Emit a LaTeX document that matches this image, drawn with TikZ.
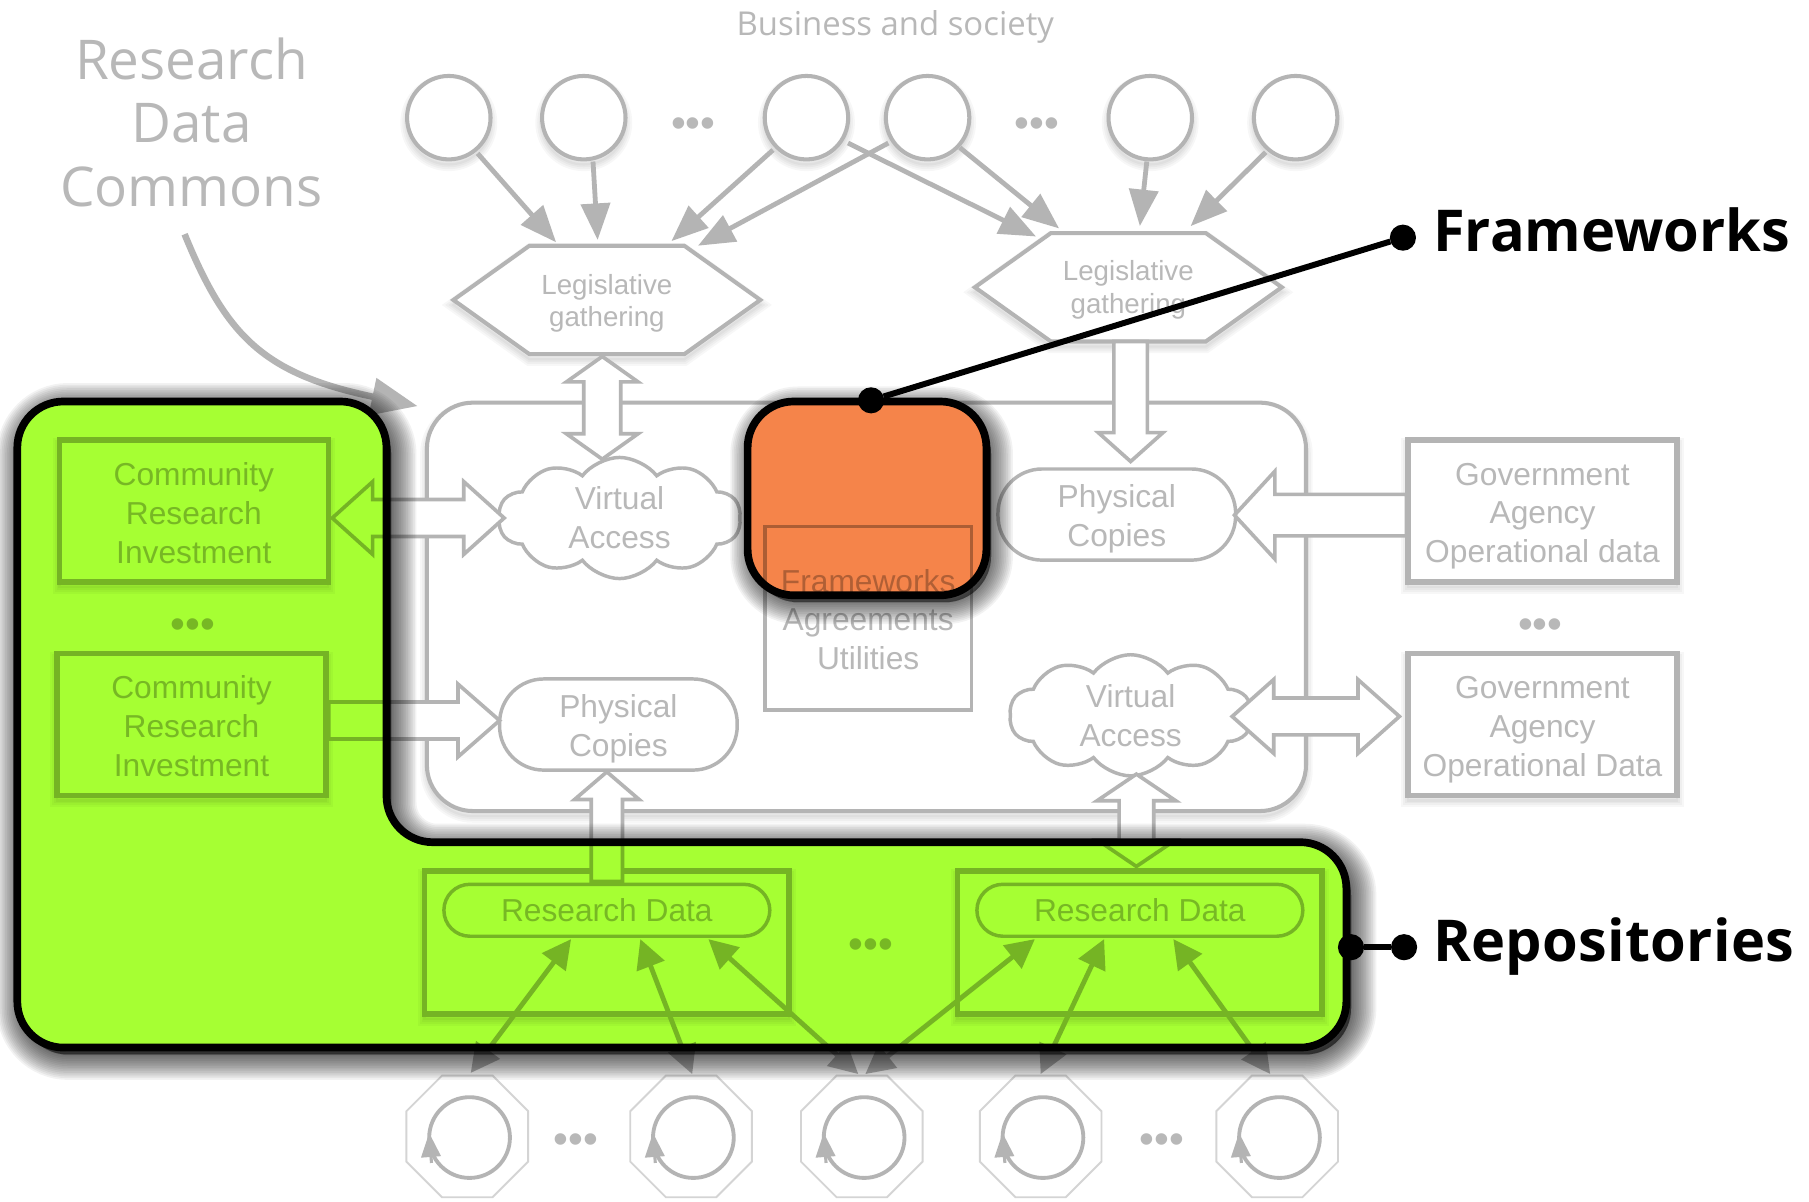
\documentclass[tikz,border=0pt]{standalone}
\usepackage{fontspec}
\setmainfont{Liberation Sans}
\newfontfamily\headfont{Open Sans}
\usetikzlibrary{calc,arrows.meta,shapes.symbols,shapes.geometric}
\definecolor{lineg}{HTML}{B4B4B4}
\definecolor{textg}{HTML}{B8B8B8}
\definecolor{octg}{HTML}{D4D4D4}
\definecolor{greenhl}{HTML}{A6FF33}
\definecolor{orangehl}{HTML}{F5844A}
\newcommand{\dn}[1]{\rule{0pt}{#1}}
\tikzset{
  x=0.6pt,y=-0.6pt,
  dx/.style={xshift=#1*0.6pt},
  dy/.style={yshift=-#1*0.6pt},
  softshadow/.style={
    preaction={draw=black,fill=none,draw opacity=.03,line width=1.2pt,transform canvas={yshift=-2.6pt}},
    preaction={draw=black,fill=none,draw opacity=.03,line width=3pt,transform canvas={yshift=-2.6pt}},
    preaction={draw=black,fill=none,draw opacity=.03,line width=5pt,transform canvas={yshift=-2.6pt}},
    preaction={draw=black,fill=none,draw opacity=.03,line width=7pt,transform canvas={yshift=-2.6pt}}},
  shapeline/.style={draw=lineg,line width=2.1pt,fill=white,text=textg,align=center,inner sep=0pt,outer sep=0pt},
  bodyfont/.style={font=\fontsize{16.5}{20.2}\selectfont},
  circlenode/.style={shapeline,softshadow,circle,minimum size=43.4pt},
  hexnode/.style={shapeline,softshadow,signal,signal to=west and east,signal pointer angle=71,minimum width=159.6pt,minimum height=56.4pt,font=\fontsize{14.4}{16.8}\selectfont},
  boxnode/.style={shapeline,softshadow,rectangle,line width=2.8pt,minimum width=139.8pt,minimum height=73.8pt,bodyfont},
  repobox/.style={shapeline,softshadow,rectangle,line width=2.8pt,minimum width=189.6pt,minimum height=74.4pt},
  pillnode/.style={shapeline,rectangle,rounded corners=13.5pt,line width=1.8pt,minimum width=169.5pt,minimum height=27pt,bodyfont},
  physnode/.style={shapeline,rectangle,rounded corners=23pt,line width=1.8pt,minimum width=123.6pt,minimum height=47.4pt,bodyfont},
  cloudnode/.style={shapeline,cloud,cloud puffs=10,cloud puff arc=105,cloud ignores aspect,line width=1.8pt,minimum width=126pt,minimum height=63pt,bodyfont},
  agrbox/.style={shapeline,rectangle,line width=1.8pt,minimum width=107.4pt,minimum height=95.4pt},
  agrtext/.style={text=textg,align=center,inner sep=0pt,font=\fontsize{16.5}{20}\selectfont},
  octnode/.style={draw=octg,line width=1pt,fill=white,regular polygon,regular polygon sides=8,minimum size=68.5pt,inner sep=0pt,outer sep=0pt},
  loopnode/.style={draw=lineg,line width=2pt,circle,minimum size=42pt,inner sep=0pt},
  looptip/.style={draw=lineg,line width=1.6pt,-{Triangle[length=12.5pt,width=10pt]}},
  dotsnode/.style={text=textg,inner sep=0pt,font=\fontsize{22}{22}\selectfont},
  conn/.style={draw=lineg,line width=2.5pt,-{Triangle[length=19pt,width=15pt]}},
  conn2/.style={draw=lineg,line width=2.5pt,{Triangle[length=15pt,width=15pt]}-{Triangle[length=15pt,width=15pt]}},
  blockline/.style={draw=lineg,line width=1.9pt,fill=white,line join=miter},
  headlabel/.style={text=textg,align=center,inner sep=0pt,font=\headfont\fontsize{28.5}{33}\selectfont},
  toplabel/.style={text=textg,inner sep=0pt,font=\headfont\fontsize{17.1}{20}\selectfont},
  calloutlabel/.style={text=black,anchor=west,inner sep=0pt,font=\headfont\bfseries\fontsize{30}{34}\selectfont},
  blackdot/.style={circle,fill=black,minimum size=13.6pt,inner sep=0pt,outer sep=0pt},
  callout/.style={draw=black,line width=3.1pt},
}
\newcommand{\blockarrow}[5]{%
  \coordinate (ba) at (#1); \coordinate (bb) at (#2);
  \coordinate (bc) at ($(bb)!#5*0.6pt!(ba)$);
  \draw[blockline] ($(ba)!#3*0.6pt!90:(bb)$) -- ($(bc)!#3*0.6pt!90:(bb)$) -- ($(bc)!#4*0.6pt!90:(bb)$) -- (bb)
    -- ($(bc)!#4*0.6pt!-90:(bb)$) -- ($(bc)!#3*0.6pt!-90:(bb)$) -- ($(ba)!#3*0.6pt!-90:(bb)$) -- cycle;}
\newcommand{\blockdouble}[5]{%
  \coordinate (ba) at (#1); \coordinate (bb) at (#2);
  \coordinate (bc) at ($(bb)!#5*0.6pt!(ba)$);
  \coordinate (bd) at ($(ba)!#5*0.6pt!(bb)$);
  \draw[blockline] (ba) -- ($(bd)!#4*0.6pt!90:(bb)$) -- ($(bd)!#3*0.6pt!90:(bb)$) -- ($(bc)!#3*0.6pt!90:(bb)$) -- ($(bc)!#4*0.6pt!90:(bb)$) -- (bb)
    -- ($(bc)!#4*0.6pt!-90:(bb)$) -- ($(bc)!#3*0.6pt!-90:(bb)$) -- ($(bd)!#3*0.6pt!-90:(bb)$) -- ($(bd)!#4*0.6pt!-90:(bb)$) -- cycle;}
\def\greenregion{(150,348) -- (335,348) -- (335,730) -- (1167,730) -- (1167,908) -- (15,908) -- (15,348) -- cycle}
\def\orangeregion{(750,348) -- (855,348) -- (855,516) -- (648,516) -- (648,348) -- cycle}
\begin{document}
\begin{tikzpicture}
\useasboundingbox (0,0) rectangle (1568,1041);
\fill[white] (0,0) rectangle (1568,1041);

% labels
\node[toplabel] (society) at (776,23) {Business and society};
\node[headlabel] (rdc) at (166,106) {Research\\Data\\Commons};

% large container
\node[shapeline,softshadow,rectangle,rounded corners=24pt,minimum width=457.2pt,minimum height=212.4pt] (main) at (751,526) {};

% top circles
\foreach \n/\x in {1/389,2/506,3/699,4/804,5/997,6/1123}{
  \node[circlenode] (c\n) at (\x,102) {};
}
\node[dotsnode] (dotsa) at (601,111) {•••};
\node[dotsnode] (dotsb) at (899,111) {•••};

% hexagons
\node[hexnode] (h1) at (526,260) {\dn{13.8pt}Legislative\\gathering};
\node[hexnode] (h2) at (978,249) {\dn{13pt}Legislative\\gathering};

% boxes at left and right
\node[boxnode] (com1) at (168,443) {\dn{14.4pt}Community\\Research\\Investment};
\node[dotsnode] (dotsc) at (167,545) {•••};
\node[boxnode] (com2) at (166,628) {\dn{14pt}Community\\Research\\Investment};
\node[boxnode] (gov1) at (1337,443) {\dn{16.8pt}Government\\Agency\\Operational data};
\node[dotsnode] (dotsd) at (1335,545) {•••};
\node[boxnode] (gov2) at (1337,628) {\dn{17.2pt}Government\\Agency\\Operational Data};

% inner shapes
\node[cloudnode] (v1) at (537,449) {Virtual\\Access};
\node[cloudnode] (v2) at (980,620) {Virtual\\Access};
\node[physnode] (ph1) at (968,446) {\dn{16.2pt}Physical\\Copies};
\node[physnode] (ph2) at (536,628) {\dn{16.8pt}Physical\\Copies};

% frameworks box
\node[agrbox] (agr) at (752.5,536) {};
\node[agrtext] (agrt) at (752.5,537) {Frameworks\\Agreements\\Utilities};

% repositories
\node[repobox] (r1) at (526,817) {};
\node[repobox] (r2) at (988,817) {};
\node[pillnode] (p1) at (526,789) {Research Data};
\node[pillnode] (p2) at (988,789) {Research Data};
\node[dotsnode] (dotse) at (755,822) {•••};

% octagons
\foreach \n/\x in {1/405,2/599,3/747,4/902,5/1107}{
  \node[octnode] (o\n) at (\x,985) {};
  \node[loopnode] (l\n) at (\x+2,986) {};
  \draw[looptip] ([dx=-33,dy=22]l\n.center) -- ([dx=-35,dy=-4]l\n.center);
}
\node[dotsnode] (dotsf) at (499,991) {•••};
\node[dotsnode] (dotsg) at (1007,991) {•••};

% thin connectors top
\draw[conn] ([dx=25,dy=31]c1.center) -- ([dx=-44,dy=-50]h1.center);
\draw[conn] ([dx=8,dy=38]c2.center) -- ([dx=-8,dy=-52]h1.center);
\draw[conn] ([dx=-29,dy=28]c3.center) -- ([dx=56,dy=-51]h1.center);
\draw[conn] ([dx=-34,dy=22]c4.center) -- ([dx=79,dy=-47]h1.center);
\draw[conn] ([dx=36,dy=22]c3.center) -- ([dx=-80,dy=-44]h2.center);
\draw[conn] ([dx=28,dy=26]c4.center) -- ([dx=-60,dy=-51]h2.center);
\draw[conn] ([dx=-3,dy=38]c5.center) -- ([dx=10,dy=-53]h2.center);
\draw[conn] ([dx=-26,dy=30]c6.center) -- ([dx=54,dy=-53]h2.center);

% thin connectors bottom
\draw[conn2] ([dx=3,dy=-55]o1.center) -- ([dx=-31,dy=25]p1.center);
\draw[conn2] ([dx=1,dy=-54]o2.center) -- ([dx=29,dy=25]p1.center);
\draw[conn2] ([dx=-3,dy=-54]o3.center) -- ([dx=88,dy=25]p1.center);
\draw[conn2] ([dx=3,dy=-54]o3.center) -- ([dx=-91,dy=25]p2.center);
\draw[conn2] ([dx=0,dy=-54]o4.center) -- ([dx=-31,dy=25]p2.center);
\draw[conn2] ([dx=-6,dy=-54]o5.center) -- ([dx=29,dy=25]p2.center);

% block arrows
\blockdouble{[dx=-4,dy=49]h1.center}{[dx=-15,dy=-51]v1.center}{16}{31}{22}
\blockarrow{[dx=2,dy=47]h2.center}{[dx=12,dy=-46]ph1.center}{14.5}{28}{25}
\blockdouble{[dx=120,dy=6]com1.center}{[dx=-100,dy=0]v1.center}{16}{31.5}{35}
\blockarrow{[dx=119,dy=-3.5]com2.center}{[dx=-103,dy=-3.5]ph2.center}{16}{31.5}{36}
\blockarrow{[dx=-118,dy=3.5]gov1.center}{[dx=102,dy=0.5]ph1.center}{18}{38}{35}
\blockdouble{[dx=88,dy=1]v2.center}{[dx=-124,dy=-7]gov2.center}{16}{32}{36}
\blockarrow{[dx=0,dy=-25]p1.center}{[dx=-10,dy=41]ph2.center}{13.5}{28}{24}
\blockdouble{[dx=5,dy=51]v2.center}{[dx=-3,dy=-38]p2.center}{15}{34}{23}

% curved pointer
\draw[draw=lineg,line width=3.4pt,-{Triangle[length=24pt,width=19pt]}]
  ([dx=-6,dy=97]rdc.center) .. controls ([dx=30,dy=185]rdc.center) and ([dx=62,dy=218]rdc.center) .. ([dx=-8,dy=3]main.north west);

% shadows of the highlights
\begin{scope}[even odd rule,rounded corners=24pt]
  \clip (0,0) rectangle (1568,1041) \greenregion;
  \foreach \w in {2,5,...,44}{
    \filldraw[black,opacity=.05,line width=\w*0.6pt,yshift=-3.6pt,xshift=2.4pt] \greenregion;
  }
\end{scope}
\begin{scope}[even odd rule,rounded corners=24pt]
  \clip (0,0) rectangle (1568,1041) \orangeregion;
  \foreach \w in {2,5,...,38}{
    \filldraw[black,opacity=.05,line width=\w*0.6pt,yshift=-3.6pt,xshift=2.4pt] \orangeregion;
  }
\end{scope}

% highlights
\fill[greenhl,blend mode=multiply,rounded corners=24pt] \greenregion;
\fill[orangehl,blend mode=multiply,rounded corners=24pt] \orangeregion;
\draw[black,line width=4pt,rounded corners=24pt] \greenregion;
\draw[black,line width=4pt,rounded corners=24pt] \orangeregion;

% callouts
\node[blackdot] (fwdot) at (1216,206) {};
\node[blackdot] (fwedge) at (755,347) {};
\node[blackdot] (repodot) at (1217,821) {};
\node[blackdot] (repoedge) at (1171,821) {};
\node[calloutlabel] (fwlabel) at (1242,199) {Frameworks};
\node[calloutlabel] (repolabel) at (1242,820) {\addfontfeature{LetterSpace=0.5}Repositories\vphantom{Frameworks}};
\draw[callout] (fwdot) -- (fwedge);
\draw[callout] (repodot) -- (repoedge);
\end{tikzpicture}
\end{document}
